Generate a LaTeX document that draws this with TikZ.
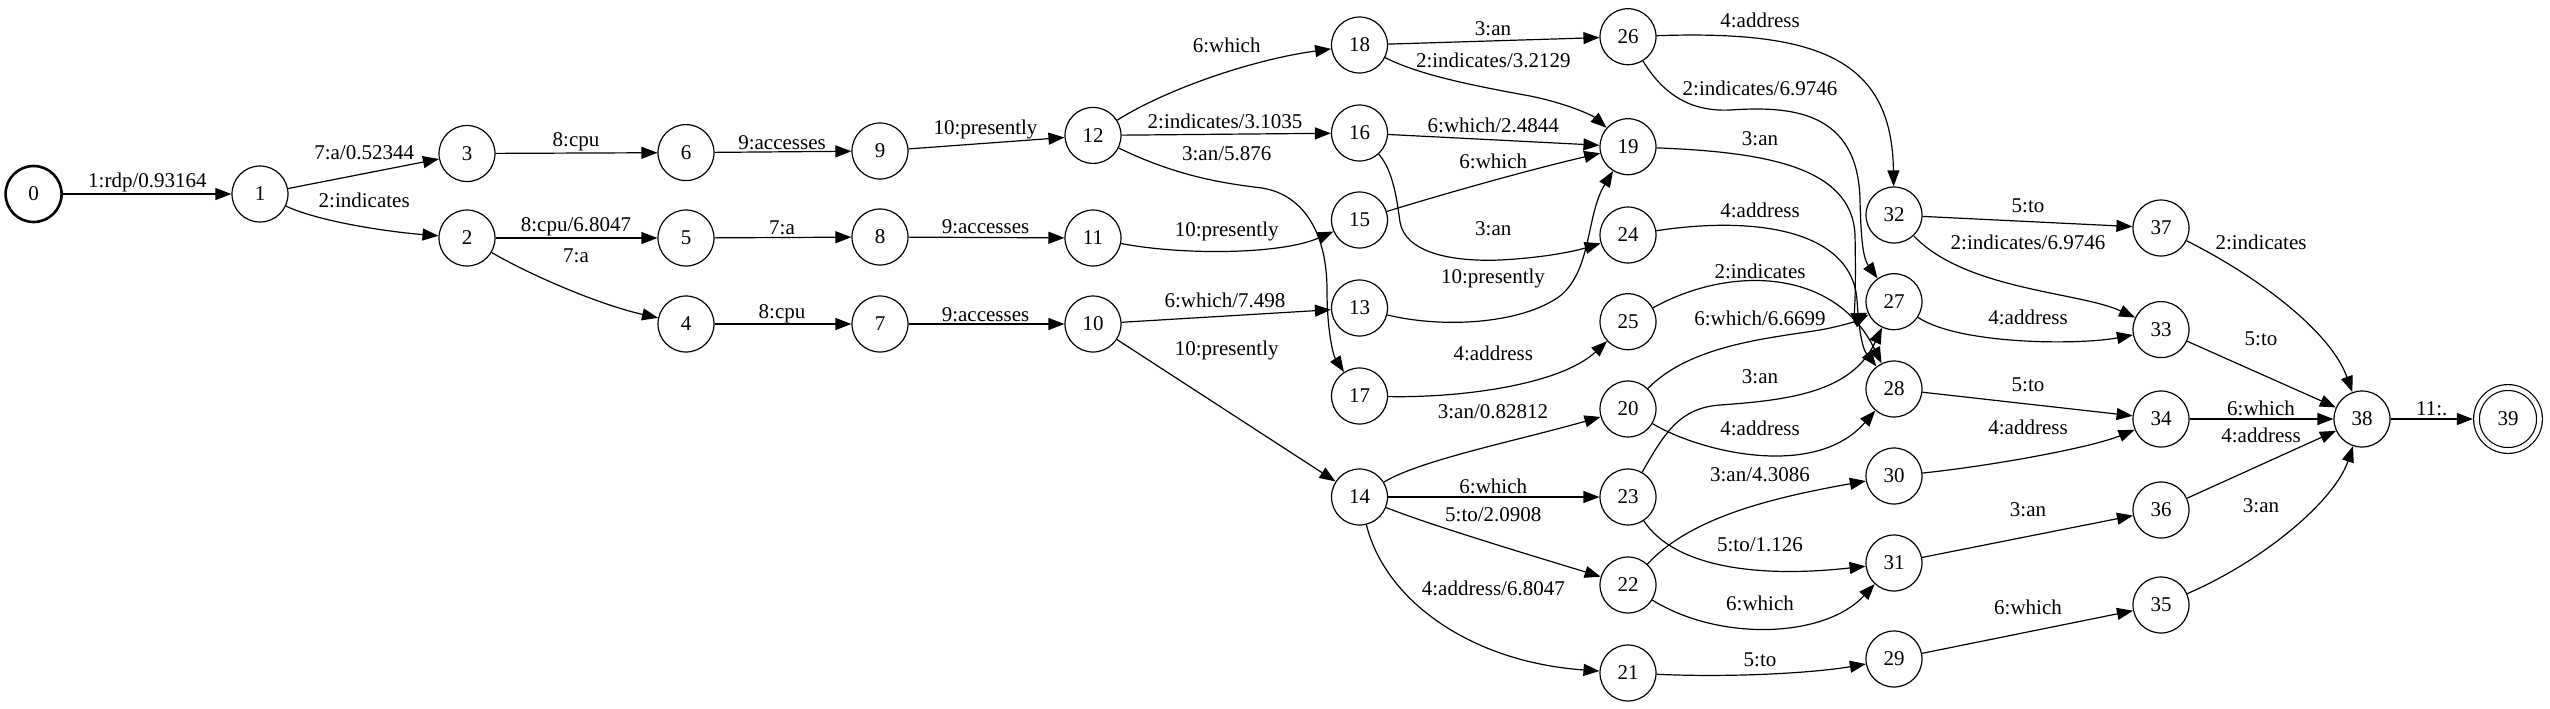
\documentclass[tikz,border=0pt]{standalone}
\usepackage{fontspec}
\setmainfont{Liberation Serif}
\usetikzlibrary{arrows.meta}

\begin{document}
\begin{tikzpicture}[x=0.5pt, y=-0.5pt,
  every node/.style = {font=\fontsize{10.5}{12.6}\selectfont},
  state/.style = {circle, draw, line width=0.6pt, minimum size=28pt, inner sep=0pt},
  trans/.style = {draw, line width=0.6pt, -{Triangle[length=8pt,width=6pt]}},
  lab/.style = {inner sep=0pt}]

\useasboundingbox (0,0) rectangle (2550,708);

\node[state, line width=1.3pt] (n0) at (33.6,194) {0};
\foreach \n/\x/\y in {1/260/194, 2/467/238, 3/467/153.5, 4/686/324, 5/686/238, 6/686/152.6,
  7/880/324, 8/880/237, 9/880/151, 10/1093/324, 11/1093/238, 12/1093/135.4,
  13/1359.5/308, 14/1359.5/497, 15/1359.5/220, 16/1359.5/133, 17/1359.5/396, 18/1359.5/45,
  19/1628/146.7, 20/1628/409, 21/1628/673, 22/1628/585, 23/1628/497, 24/1628/235,
  25/1628/321.7, 26/1628/36.7, 27/1894/301.7, 28/1894/389, 29/1894/659, 30/1894/476,
  31/1894/563, 32/1894/215, 33/2161/329.6, 34/2161/419, 35/2161/605, 36/2161/510,
  37/2161/228, 38/2362/419}
  \node[state] (n\n) at (\x,\y) {\n};
\node[state, double, double distance=2.3pt, minimum size=31.5pt, outer sep=1.8pt] (n39) at (2508,419) {39};

\draw[trans] (n0) -- (n1) node[lab] at (147.4,182.8) {1:rdp/0.93164};
\draw[trans] (n1) -- (n3) node[lab] at (364.2,152.6) {7:a/0.52344};
\draw[trans] (n1) .. controls (320,222) and (390,232) .. (n2) node[lab] at (364.2,200) {2:indicates};
\draw[trans] (n3) -- (n6) node[lab] at (576,142.2) {8:cpu};
\draw[trans] (n2) -- (n5) node[lab] at (576,227) {8:cpu/6.8047};
\draw[trans] (n2) .. controls (530,275) and (600,305) .. (n4) node[lab] at (576,256) {7:a};
\draw[trans] (n6) -- (n9) node[lab] at (782,142.2) {9:accesses};
\draw[trans] (n5) -- (n8) node[lab] at (782,228) {7:a};
\draw[trans] (n4) -- (n7) node[lab] at (782,313.8) {8:cpu};
\draw[trans] (n9) -- (n12) node[lab] at (985.5,129.6) {10:presently};
\draw[trans] (n8) -- (n11) node[lab] at (985.5,227) {9:accesses};
\draw[trans] (n7) -- (n10) node[lab] at (985.5,314.7) {9:accesses};

\draw[trans] (n12) .. controls (1165,90) and (1250,60) .. (n18) node[lab] at (1226.7,45) {6:which};
\draw[trans] (n12) -- (n16) node[lab] at (1225,121.7) {2:indicates/3.1035};
\draw[trans] (n12) .. controls (1180,178) and (1230,184) .. (1262,188)
  .. controls (1305,195) and (1327,235) .. (1327,290)
  .. controls (1327,330) and (1333,355) .. (n17) node[lab] at (1226.7,153.3) {3:an/5.876};
\draw[trans] (n11) .. controls (1180,255) and (1280,255) .. (n15) node[lab] at (1226.7,231.7) {10:presently};
\draw[trans] (n10) -- (n13) node[lab] at (1225,300) {6:which/7.498};
\draw[trans] (n10) -- (n14) node[lab] at (1226.7,350) {10:presently};

\draw[trans] (n18) -- (n26) node[lab] at (1493,28.3) {3:an};
\draw[trans] (n18) .. controls (1420,75) and (1470,85) .. (1530,96)
  .. controls (1565,103) and (1592,115) .. (n19) node[lab] at (1493.3,60) {2:indicates/3.2129};
\draw[trans] (n16) -- (n19) node[lab] at (1493.3,125) {6:which/2.4844};
\draw[trans] (n15) .. controls (1430,198) and (1520,172) .. (n19) node[lab] at (1493.3,161.7) {6:which};
\draw[trans] (n16) .. controls (1393,170) and (1397,200) .. (1400,222)
  .. controls (1405,252) and (1450,262) .. (1500,260)
  .. controls (1540,258) and (1572,252) .. (n24) node[lab] at (1493.3,228.3) {3:an};
\draw[trans] (n13) .. controls (1440,328) and (1520,325) .. (1560,296)
  .. controls (1592,270) and (1586,215) .. (n19) node[lab] at (1493,278) {10:presently};
\draw[trans] (n17) .. controls (1460,398) and (1560,385) .. (n25) node[lab] at (1493.3,353.3) {4:address};
\draw[trans] (n14) .. controls (1420,460) and (1520,440) .. (n20) node[lab] at (1493,411.7) {3:an/0.82812};
\draw[trans] (n14) -- (n23) node[lab] at (1493.3,486.7) {6:which};
\draw[trans] (n14) .. controls (1430,525) and (1530,555) .. (n22) node[lab] at (1493.3,515) {5:to/2.0908};
\draw[trans] (n14) .. controls (1385,600) and (1470,662) .. (n21) node[lab] at (1493.3,588.3) {4:address/6.8047};

\draw[trans] (n26) .. controls (1820,30) and (1892,60) .. (n32) node[lab] at (1760,20) {4:address};
\draw[trans] (n26) .. controls (1662,92) and (1688,112) .. (1730,110)
  .. controls (1790,106) and (1858,110) .. (1860,200)
  .. controls (1861,240) and (1863,258) .. (n27) node[lab] at (1760,88.3) {2:indicates/6.9746};
\draw[trans] (n19) .. controls (1760,152) and (1852,165) .. (1855,235)
  .. controls (1856,280) and (1855,318) .. (n27) node[lab] at (1760,139) {3:an};
\draw[trans] (n24) .. controls (1760,215) and (1852,232) .. (1857,300)
  .. controls (1859,330) and (1862,348) .. (n28) node[lab] at (1760,210) {4:address};
\draw[trans] (n25) .. controls (1730,265) and (1835,268) .. (n28) node[lab] at (1760,271.7) {2:indicates};
\draw[trans] (n20) .. controls (1690,345) and (1770,338) .. (1820,330)
  .. controls (1842,326) and (1856,321) .. (n27) node[lab] at (1760,318.3) {6:which/6.6699};
\draw[trans] (n23) .. controls (1665,432) and (1680,408) .. (1720,405)
  .. controls (1790,400) and (1852,392) .. (n27) node[lab] at (1760,376.7) {3:an};
\draw[trans] (n20) .. controls (1700,452) and (1815,480) .. (n28) node[lab] at (1760,428.3) {4:address};
\draw[trans] (n22) .. controls (1690,518) and (1770,498) .. (n30) node[lab] at (1760,475) {3:an/4.3086};
\draw[trans] (n23) .. controls (1675,568) and (1760,578) .. (n31) node[lab] at (1760,545) {5:to/1.126};
\draw[trans] (n22) .. controls (1720,642) and (1825,638) .. (n31) node[lab] at (1760,603) {6:which};
\draw[trans] (n21) .. controls (1740,678) and (1820,672) .. (n29) node[lab] at (1760,660) {5:to};

\draw[trans] (n32) -- (n37) node[lab] at (2028,205.4) {5:to};
\draw[trans] (n32) .. controls (1965,290) and (2080,292) .. (n33) node[lab] at (2028,242.4) {2:indicates/6.9746};
\draw[trans] (n27) .. controls (1960,345) and (2080,345) .. (n33) node[lab] at (2028,317.4) {4:address};
\draw[trans] (n28) -- (n34) node[lab] at (2028,385) {5:to};
\draw[trans] (n30) .. controls (1990,466) and (2090,448) .. (n34) node[lab] at (2028,427.5) {4:address};
\draw[trans] (n31) -- (n36) node[lab] at (2028,510) {3:an};
\draw[trans] (n29) -- (n35) node[lab] at (2028,607) {6:which};

\draw[trans] (n37) .. controls (2255,275) and (2330,330) .. (n38) node[lab] at (2261,242.4) {2:indicates};
\draw[trans] (n33) -- (n38) node[lab] at (2261,338.6) {5:to};
\draw[trans] (n34) -- (n38) node[lab] at (2261,408.6) {6:which};
\draw[trans] (n36) -- (n38) node[lab] at (2261,435.7) {4:address};
\draw[trans] (n35) .. controls (2265,560) and (2335,500) .. (n38) node[lab] at (2261,505.6) {3:an};
\draw[trans] (n38) -- (n39) node[lab] at (2431.7,408.6) {11:.};
\end{tikzpicture}
\end{document}
